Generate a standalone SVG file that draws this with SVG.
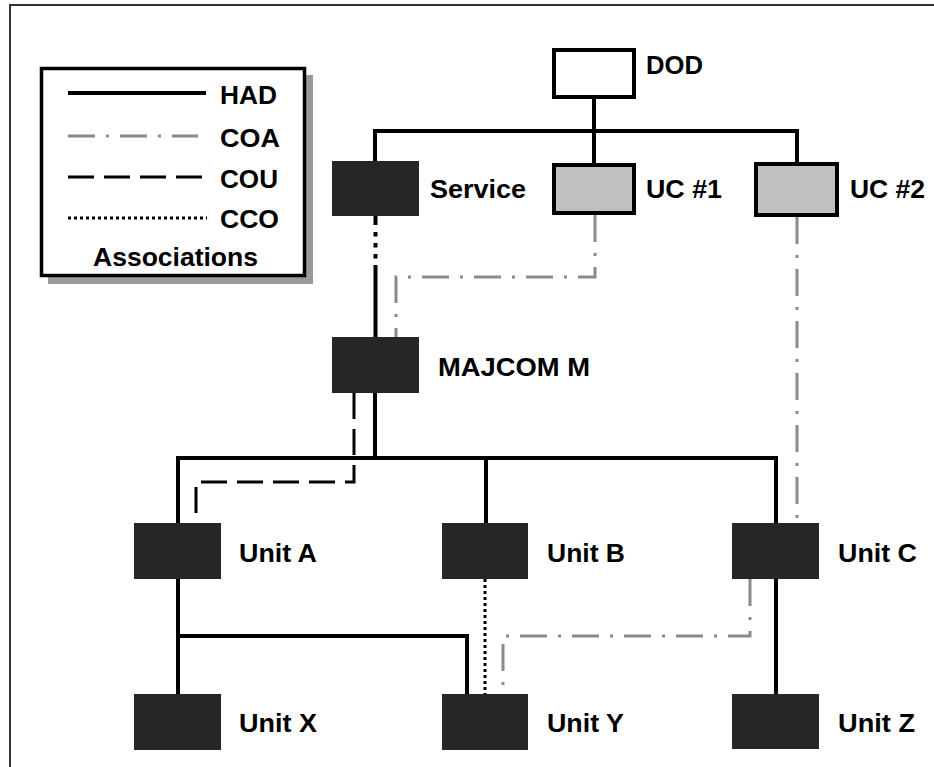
<svg xmlns="http://www.w3.org/2000/svg" width="934" height="767" viewBox="0 0 934 767">
  <style>
    text { font-family: "Liberation Sans", Arial, sans-serif; font-weight: bold; font-size: 25px; fill: #000; }
    .dark { fill: #262626; }
    .light { fill: #c0c0c0; stroke: #000; stroke-width: 4; }
    .white { fill: #fff; stroke: #000; stroke-width: 4; }
    .had { fill: none; stroke: #000; stroke-width: 4; }
    .coa { fill: none; stroke: #8a8a8a; stroke-width: 3; stroke-dasharray: 27 11 3 11; }
    .cou { fill: none; stroke: #000; stroke-width: 3; stroke-dasharray: 26 10; }
    .cco { fill: none; stroke: #000; stroke-width: 3; stroke-dasharray: 3 3; }
  </style>

  <rect x="0" y="0" width="934" height="767" fill="#fff"/>
  <!-- frame -->
  <path d="M10 767 V5 H934" fill="none" stroke="#333" stroke-width="2"/>

  <!-- legend -->
  <g id="legend">
    <rect x="48" y="75" width="265" height="209" fill="#9a9a9a"/>
    <rect x="41.5" y="68.5" width="263" height="207" fill="#fff" stroke="#000" stroke-width="3.5"/>
    <path d="M68 93 H206" class="had"/>
    <text x="220" y="104" textLength="57" lengthAdjust="spacingAndGlyphs">HAD</text>
    <path d="M68 136 H198" class="coa" stroke-dasharray="28 10 3 11"/>
    <text x="220" y="147" textLength="60" lengthAdjust="spacingAndGlyphs">COA</text>
    <path d="M68 177 H205" class="cou" stroke-dasharray="28 10"/>
    <text x="220" y="188" textLength="58" lengthAdjust="spacingAndGlyphs">COU</text>
    <path d="M68 218 H207" class="cco" stroke-width="2" stroke-dasharray="2 2"/>
    <text x="220" y="228" textLength="59" lengthAdjust="spacingAndGlyphs">CCO</text>
    <text x="93" y="266" textLength="165" lengthAdjust="spacingAndGlyphs">Associations</text>
  </g>

  <!-- connectors -->
  <g id="connectors">
    <!-- HAD -->
    <path class="had" d="M594 97 V165"/>
    <path class="had" d="M375 161 V131 H797 V164"/>
    <path class="had" d="M375.5 216 V337" stroke-width="4.5" stroke-dasharray="9 7 4.5 6.5 4.5 6.5 4.5 6.5 200"/>
    <path class="had" d="M375 393 V458"/>
    <path class="had" d="M178 523 V458 H776 V523"/>
    <path class="had" d="M486 458 V523"/>
    <path class="had" d="M178 579 V694"/>
    <path class="had" d="M178 636 H467 V694"/>
    <path class="had" d="M776 579 V694"/>
    <!-- COU -->
    <path class="cou" d="M354 393 V482 H196 V523"/>
    <!-- COA -->
    <path class="coa" d="M595 215 V277 H396 V337"/>
    <path class="coa" d="M797 217 V523"/>
    <path class="coa" d="M750 579 V636 H503 V694"/>
    <!-- CCO -->
    <path class="cco" d="M485 579 V694"/>
  </g>

  <!-- nodes -->
  <g id="dod">
    <rect class="white" x="554" y="50" width="80" height="47"/>
    <text x="646" y="74" textLength="57" lengthAdjust="spacingAndGlyphs">DOD</text>
  </g>
  <g id="service">
    <rect class="dark" x="332" y="161" width="87" height="55"/>
    <text x="430" y="198" textLength="96" lengthAdjust="spacingAndGlyphs">Service</text>
  </g>
  <g id="uc1">
    <rect class="light" x="554" y="165" width="80" height="48"/>
    <text x="646" y="198" textLength="76" lengthAdjust="spacingAndGlyphs">UC #1</text>
  </g>
  <g id="uc2">
    <rect class="light" x="756" y="164" width="81" height="51"/>
    <text x="850" y="198" textLength="75" lengthAdjust="spacingAndGlyphs">UC #2</text>
  </g>
  <g id="majcom-m">
    <rect class="dark" x="332" y="337" width="87" height="56"/>
    <text x="438" y="376" textLength="152" lengthAdjust="spacingAndGlyphs">MAJCOM M</text>
  </g>
  <g id="unit-a">
    <rect class="dark" x="134" y="523" width="87" height="56"/>
    <text x="239" y="562" textLength="78" lengthAdjust="spacingAndGlyphs">Unit A</text>
  </g>
  <g id="unit-b">
    <rect class="dark" x="442" y="523" width="86" height="56"/>
    <text x="547" y="562" textLength="78" lengthAdjust="spacingAndGlyphs">Unit B</text>
  </g>
  <g id="unit-c">
    <rect class="dark" x="732" y="523" width="87" height="56"/>
    <text x="838" y="562" textLength="79" lengthAdjust="spacingAndGlyphs">Unit C</text>
  </g>
  <g id="unit-x">
    <rect class="dark" x="134" y="694" width="87" height="56"/>
    <text x="239" y="732" textLength="78" lengthAdjust="spacingAndGlyphs">Unit X</text>
  </g>
  <g id="unit-y">
    <rect class="dark" x="442" y="694" width="86" height="56"/>
    <text x="547" y="732" textLength="77" lengthAdjust="spacingAndGlyphs">Unit Y</text>
  </g>
  <g id="unit-z">
    <rect class="dark" x="732" y="694" width="87" height="55"/>
    <text x="838" y="732" textLength="77" lengthAdjust="spacingAndGlyphs">Unit Z</text>
  </g>
</svg>
